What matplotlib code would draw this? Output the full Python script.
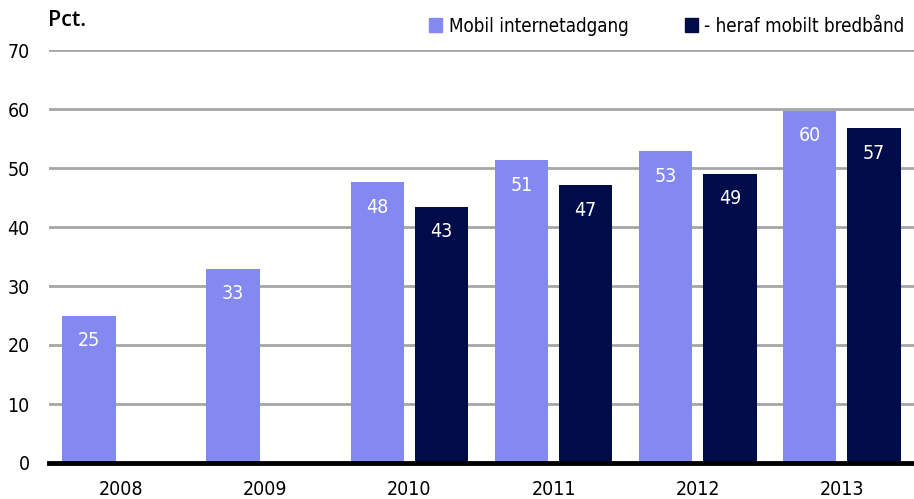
import numpy as np
import matplotlib.pyplot as plt
from matplotlib.patches import Patch

# condensed face stands in for the narrow font of the original
plt.rcParams['font.family'] = ['DejaVu Sans']
plt.rcParams['font.stretch'] = 'condensed'

years = ['2008', '2009', '2010', '2011', '2012', '2013']
mobil = [25.0, 32.9, 47.6, 51.3, 52.8, 59.7]
bredbaand = [np.nan, np.nan, 43.4, 47.1, 49.0, 56.7]
labels_mobil = ['25', '33', '48', '51', '53', '60']
labels_bred = ['', '', '43', '47', '49', '57']

light = '#8489F2'
dark = '#000B4A'

fig = plt.figure(figsize=(9.14, 4.99), dpi=100)
ax = fig.add_axes([49 / 914, 1 - 463 / 499, 865 / 914, 413 / 499])

x = np.arange(len(years))
w = 0.37
off = 0.223
b1 = ax.bar(x - off, mobil, w, color=light, zorder=2)
b2 = ax.bar(x + off, bredbaand, w, color=dark, zorder=2)

# value labels inside bars
for rects, labs in [(b1, labels_mobil), (b2, labels_bred)]:
    for r, lab in zip(rects, labs):
        if lab:
            ax.annotate(lab, (r.get_x() + r.get_width() / 2, r.get_height()),
                        xytext=(0, -18), textcoords='offset points',
                        ha='center', va='center', color='white', fontsize=14)

ax.set_xlim(-0.5, len(years) - 0.5)
ax.set_ylim(0, 70)
ax.set_yticks(range(0, 71, 10))
ax.set_xticks(x)
ax.set_xticklabels(years)
ax.tick_params(axis='both', length=0, labelsize=14)
ax.tick_params(axis='x', pad=12)
ax.tick_params(axis='y', pad=14)
ax.grid(axis='y', color='#A6A6A6', linewidth=2, zorder=0)
for s in ['top', 'right', 'left']:
    ax.spines[s].set_visible(False)
ax.spines['bottom'].set_linewidth(3.5)
ax.spines['bottom'].set_zorder(3)

fig.text(48 / 914, 1 - 20 / 499, 'Pct.', fontsize=15.5, fontweight='semibold',
         family=['Open Sans', 'DejaVu Sans'], stretch='normal', va='center', ha='left')

handles = [Patch(color=light), Patch(color=dark)]
fig.legend(handles, ['Mobil internetadgang', '- heraf mobilt bredbånd'],
           loc='center right', bbox_to_anchor=(0.998, 1 - 26 / 499), ncol=2,
           frameon=False, fontsize=13.5, handlelength=0.7, handleheight=0.7,
           handletextpad=0.35, columnspacing=3.0, borderaxespad=0)

fig.savefig('out.png', dpi=100)
